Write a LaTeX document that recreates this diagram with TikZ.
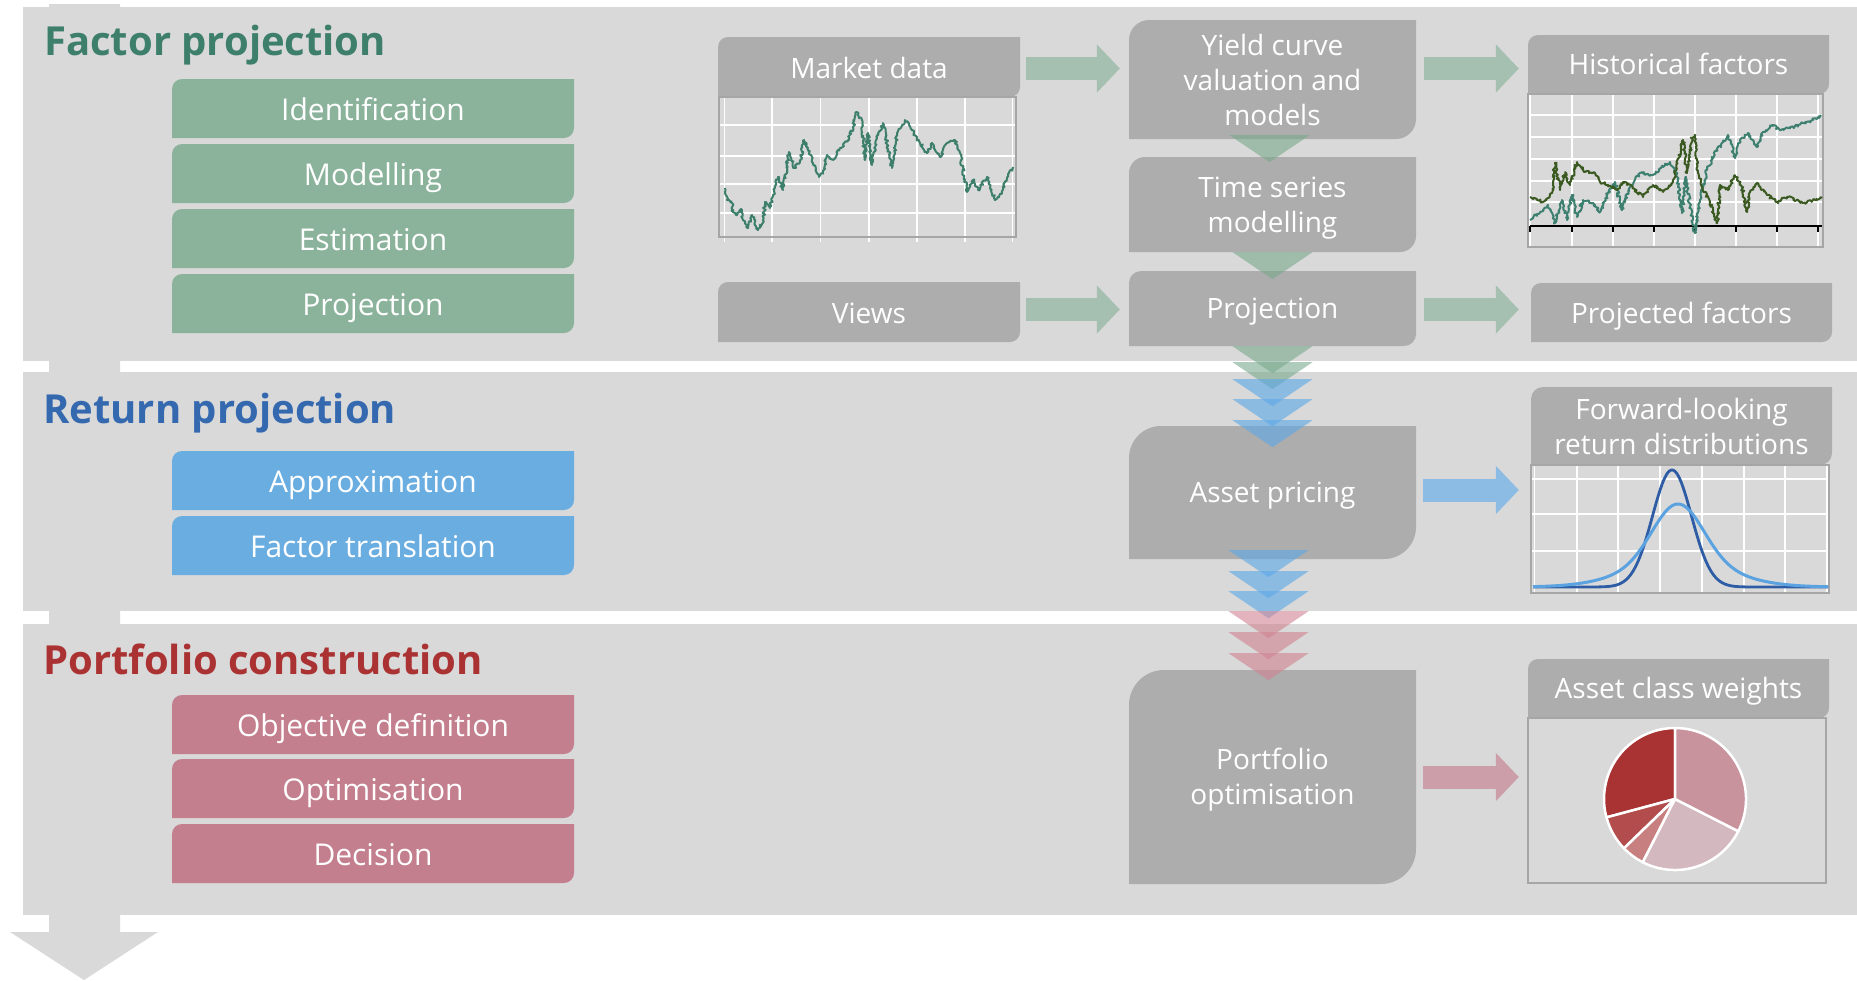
\documentclass[tikz,border=0pt]{standalone}
\usepackage{fontspec}
\setmainfont{Open Sans}
\usetikzlibrary{calc,arrows.meta,decorations.pathmorphing}

\definecolor{panel}{HTML}{D9D9D9}
\definecolor{boxgrey}{HTML}{ADADAD}
\definecolor{fgreen}{HTML}{8BB39B}
\definecolor{fblue}{HTML}{6AADE1}
\definecolor{fred}{HTML}{C47F8E}
\definecolor{tgreen}{HTML}{3D7F6B}
\definecolor{tblue}{HTML}{3469B0}
\definecolor{tred}{HTML}{AB3232}
\definecolor{agreen}{HTML}{A5C0B0}
\definecolor{ablue}{HTML}{8CBBE3}
\definecolor{ared}{HTML}{CC9EA9}
\definecolor{cgreen}{HTML}{79A98D}
\definecolor{cblue}{HTML}{5AA7E8}
\definecolor{cred}{HTML}{D18291}
\definecolor{teal}{HTML}{3D8070}
\definecolor{olive}{HTML}{3A5A22}
\definecolor{dblue}{HTML}{2E5DA6}
\definecolor{lblue}{HTML}{5BA3E0}
\definecolor{frame}{HTML}{A6A6A6}
\definecolor{pieA}{HTML}{A93232}
\definecolor{pieB}{HTML}{B34D4D}
\definecolor{pieC}{HTML}{C87F80}
\definecolor{pieD}{HTML}{D4B8BF}
\definecolor{pieE}{HTML}{C9939E}

\tikzset{
  lbl/.style={text=white, font=\fontsize{28}{35}\selectfont, inner sep=0pt, align=center, text height=20pt, text depth=0pt},
  multi/.style={text height={}, text depth={}},
  side/.style={font=\fontsize{30}{36}\selectfont, text height=21.5pt, yshift=-1.5pt},
  title/.style={font=\fontsize{40}{48}\selectfont\bfseries, inner sep=0pt, anchor=base west},
  barrow/.style={draw=#1, line width=23pt, -{Triangle[length=23pt, width=47pt]}},
  chev/.style={fill=#1, fill opacity=0.6},
  grid/.style={white, line width=1.5pt},
  series/.style={#1, line width=2pt, line join=round, decorate, decoration={random steps, segment length=1.5pt, amplitude=1.5pt}}
}

% box with round top-left and bottom-right corners, plus its text node
\newcommand{\dbox}[9][]{%
  \fill[#8] (#3,#6) -- (#3,#4+#7) arc(180:270:#7) -- (#5,#4) -- (#5,#6-#7) arc(0:90:#7) -- cycle;
  \node[lbl, #1, minimum width=#5-#3, minimum height=#6-#4] (#2) at ({(#3+#5)/2},{(#4+#6)/2}) {#9};}

\begin{document}
\begin{tikzpicture}[x=1pt, y=-1pt]
\useasboundingbox (0,0) rectangle (1857,980);
\pgfmathsetseed{11}

% background arrow and panels
\fill[panel] (49,4) -- (120,4) -- (120,932) -- (158,932) -- (84,980) -- (10,932) -- (49,932) -- cycle;
\fill[panel] (23,7) rectangle (1857,361);
\fill[panel] (23,372) rectangle (1857,611);
\fill[panel] (23,624) rectangle (1857,915);

\node[title, text=tgreen] (tfac) at (44,55) {Factor projection};
\node[title, text=tblue] (tret) at (43,423) {Return projection};
\node[title, text=tred] (tport) at (43,674) {Portfolio construction};

% left column
\dbox[side]{ident}{172}{79}{574}{138}{10}{fgreen}{Identification}
\dbox[side]{model}{172}{144}{574}{203}{10}{fgreen}{Modelling}
\dbox[side]{estim}{172}{209}{574}{268}{10}{fgreen}{Estimation}
\dbox[side]{lproj}{172}{274}{574}{333}{10}{fgreen}{Projection}
\dbox[side]{approx}{172}{451}{574}{510}{10}{fblue}{Approximation}
\dbox[side]{ftrans}{172}{516}{574}{575}{10}{fblue}{Factor translation}
\dbox[side]{objdef}{172}{695}{574}{754}{10}{fred}{Objective definition}
\dbox[side]{optim}{172}{759}{574}{818}{10}{fred}{Optimisation}
\dbox[side]{decis}{172}{824}{574}{883}{10}{fred}{Decision}

% process boxes
\dbox[yshift=-1pt]{mkt}{718}{37}{1020}{97}{10}{boxgrey}{Market data}
\dbox[yshift=-1pt]{views}{718}{282}{1020}{342}{10}{boxgrey}{Views}
\dbox[multi]{yield}{1129}{20}{1416}{139}{20}{boxgrey}{Yield curve\\valuation and\\models}
\dbox[multi, yshift=-4pt]{tseries}{1129}{157}{1416}{252}{16}{boxgrey}{Time series\\modelling}
\dbox{proj}{1129}{271}{1416}{346}{12}{boxgrey}{Projection}
\dbox{asset}{1129}{426}{1416}{559}{32}{boxgrey}{Asset pricing}
\dbox[multi, yshift=-3pt]{port}{1129}{670}{1416}{884}{35}{boxgrey}{Portfolio\\optimisation}
\dbox{hist}{1528}{35}{1829}{94}{10}{boxgrey}{Historical factors}
\dbox[yshift=-1pt]{pfac}{1531}{283}{1832}{342}{10}{boxgrey}{Projected factors}
\dbox[multi]{fwd}{1531}{387}{1832}{465}{12}{boxgrey}{Forward-looking\\return distributions}
\dbox{acw}{1528}{659}{1829}{718}{10}{boxgrey}{Asset class weights}

% market data chart
\foreach \x in {724.5,772,820.5,869,917,965,1012.5}
  \draw[grid] (\x,97) -- (\x,242);
\foreach \y in {125,156,184,213}
  \draw[grid] (719,\y) -- (1016,\y);
\draw[frame, line width=1.2pt] (719,97) rectangle (1016,237);
\draw[series=tgreen] plot coordinates {(725,188) (727,200) (732,203) (733,212) (737,215) (741,209) (743,220) (748,228) (752,215) (758,230) (763,220) (765,202) (770,208) (773,195) (778,177) (783,190) (789,152) (794,168) (800,162) (804,140) (808,148) (813,163) (819,177) (824,170) (827,155) (833,160) (840,148) (848,140) (853,127) (856,112) (862,120) (865,160) (868,133) (872,165) (877,138) (883,123) (892,168) (897,133) (905,120) (912,130) (920,143) (927,153) (932,143) (940,157) (947,143) (955,140) (960,153) (967,192) (973,180) (978,190) (987,177) (995,200) (1002,193) (1007,177) (1013,167)};

% historical factors chart
\foreach \x in {1530,1572,1613,1654,1695,1736,1777,1818}
  \draw[grid] (\x,94) -- (\x,247);
\foreach \y in {115,137,159,181,202}
  \draw[grid] (1529,\y) -- (1822,\y);
\draw[frame, line width=1.2pt] (1528,94) rectangle (1823,247);
\draw[line width=1.3pt] (1530,226) -- (1822,226);
\foreach \x in {1530,1572,1613,1654,1695,1736,1777,1818}
  \draw[line width=1.3pt] (\x,226) -- (\x,232);
\draw[series=teal] plot coordinates {(1530,220) (1540,212) (1548,205) (1555,223) (1562,200) (1567,220) (1572,195) (1577,217) (1583,200) (1593,203) (1600,212) (1608,193) (1615,182) (1622,210) (1630,187) (1640,173) (1653,175) (1663,167) (1670,162) (1677,173) (1682,213) (1686,177) (1690,207) (1695,233) (1700,200) (1707,170) (1717,150) (1728,135) (1735,158) (1740,140) (1748,133) (1757,147) (1763,132) (1772,125) (1780,130) (1793,127) (1803,123) (1813,120) (1821,115)};
\draw[series=olive] plot coordinates {(1530,197) (1537,200) (1543,202) (1552,193) (1555,163) (1560,190) (1565,172) (1570,185) (1577,162) (1585,172) (1595,173) (1600,182) (1608,185) (1617,190) (1623,182) (1633,188) (1643,197) (1653,185) (1663,192) (1673,182) (1683,140) (1687,173) (1692,138) (1695,135) (1698,173) (1703,190) (1710,202) (1717,223) (1720,185) (1728,190) (1735,175) (1742,187) (1747,212) (1750,192) (1757,183) (1767,195) (1777,202) (1787,197) (1803,203) (1822,198)};

% return distributions chart
\foreach \x in {1534.5,1577,1618,1660,1702,1744,1785,1827}
  \draw[grid] (\x,465) -- (\x,593);
\foreach \y in {479,514,551}
  \draw[grid] (1532,\y) -- (1828,\y);
\draw[frame, line width=1.2pt] (1531,465) rectangle (1829,593);
\draw[dblue, line width=2.8pt, line join=round] plot[domain=1533:1828, samples=200]
  (\x, {587-117*exp(-min(9,((\x-1672)/19.5)^2/2))});
\draw[lblue, line width=3pt, line join=round] plot[domain=1533:1828, samples=200]
  (\x, {587-58*exp(-min(9,((\x-1678)/25)^2/2))-25*exp(-min(9,((\x-1678)/50)^2/2))});

% asset class weights chart
\draw[frame, line width=1.2pt] (1528,718) rectangle (1826,883);
\begin{scope}[shift={(1675,799)}, yscale=-1]
  \foreach \a/\b/\c in {90/195/pieA, 195/224/pieB, 224/243/pieC, 243/333/pieD, 333/450/pieE}
    \filldraw[fill=\c, draw=white, line width=2.5pt, line join=round] (0,0) -- (\a:71) arc(\a:\b:71) -- cycle;
\end{scope}

% block arrows
\draw[barrow=agreen] ($(mkt.east)+(6,0.5)$) -- ($(yield.west |- mkt.east)+(-9,0.5)$);
\draw[barrow=agreen] ($(views.east)+(6,-3.5)$) -- ($(proj.west |- views.east)+(-9,-3.5)$);
\draw[barrow=agreen] ($(yield.east |- hist.west)+(8,4)$) -- ($(hist.west)+(-9,4)$);
\draw[barrow=agreen] ($(proj.east)+(8,1)$) -- ($(pfac.west |- proj.east)+(-12,1)$);
\draw[barrow=ablue] ($(asset.east)+(7,-2.5)$) -- ($(fwd.west |- asset.east)+(-12,-2.5)$);
\draw[barrow=ared] ($(port.east)+(7,-3)$) -- ($(acw.west |- port.east)+(-9,-3)$);

% chevrons
\fill[chev=cgreen] ($(yield.south)+(-43,-4)$) -- ++(80,0) -- ++(-40,27) -- cycle;
\fill[chev=cgreen] ($(tseries.south)+(-40,-4)$) -- ++(80,0) -- ++(-40,27) -- cycle;
\foreach \o/\c in {0/cgreen,16/cgreen,33/cblue,53/cblue,74/cblue}
  \fill[chev=\c] ($(proj.south)+(-40,\o)$) -- ++(80,0) -- ++(-40,27) -- cycle;
\foreach \o/\c in {-9/cblue,12/cblue,32/cblue,52/cred,73/cred,94/cred}
  \fill[chev=\c] ($(asset.south)+(-44,\o)$) -- ++(80,0) -- ++(-40,27) -- cycle;
\end{tikzpicture}
\end{document}
